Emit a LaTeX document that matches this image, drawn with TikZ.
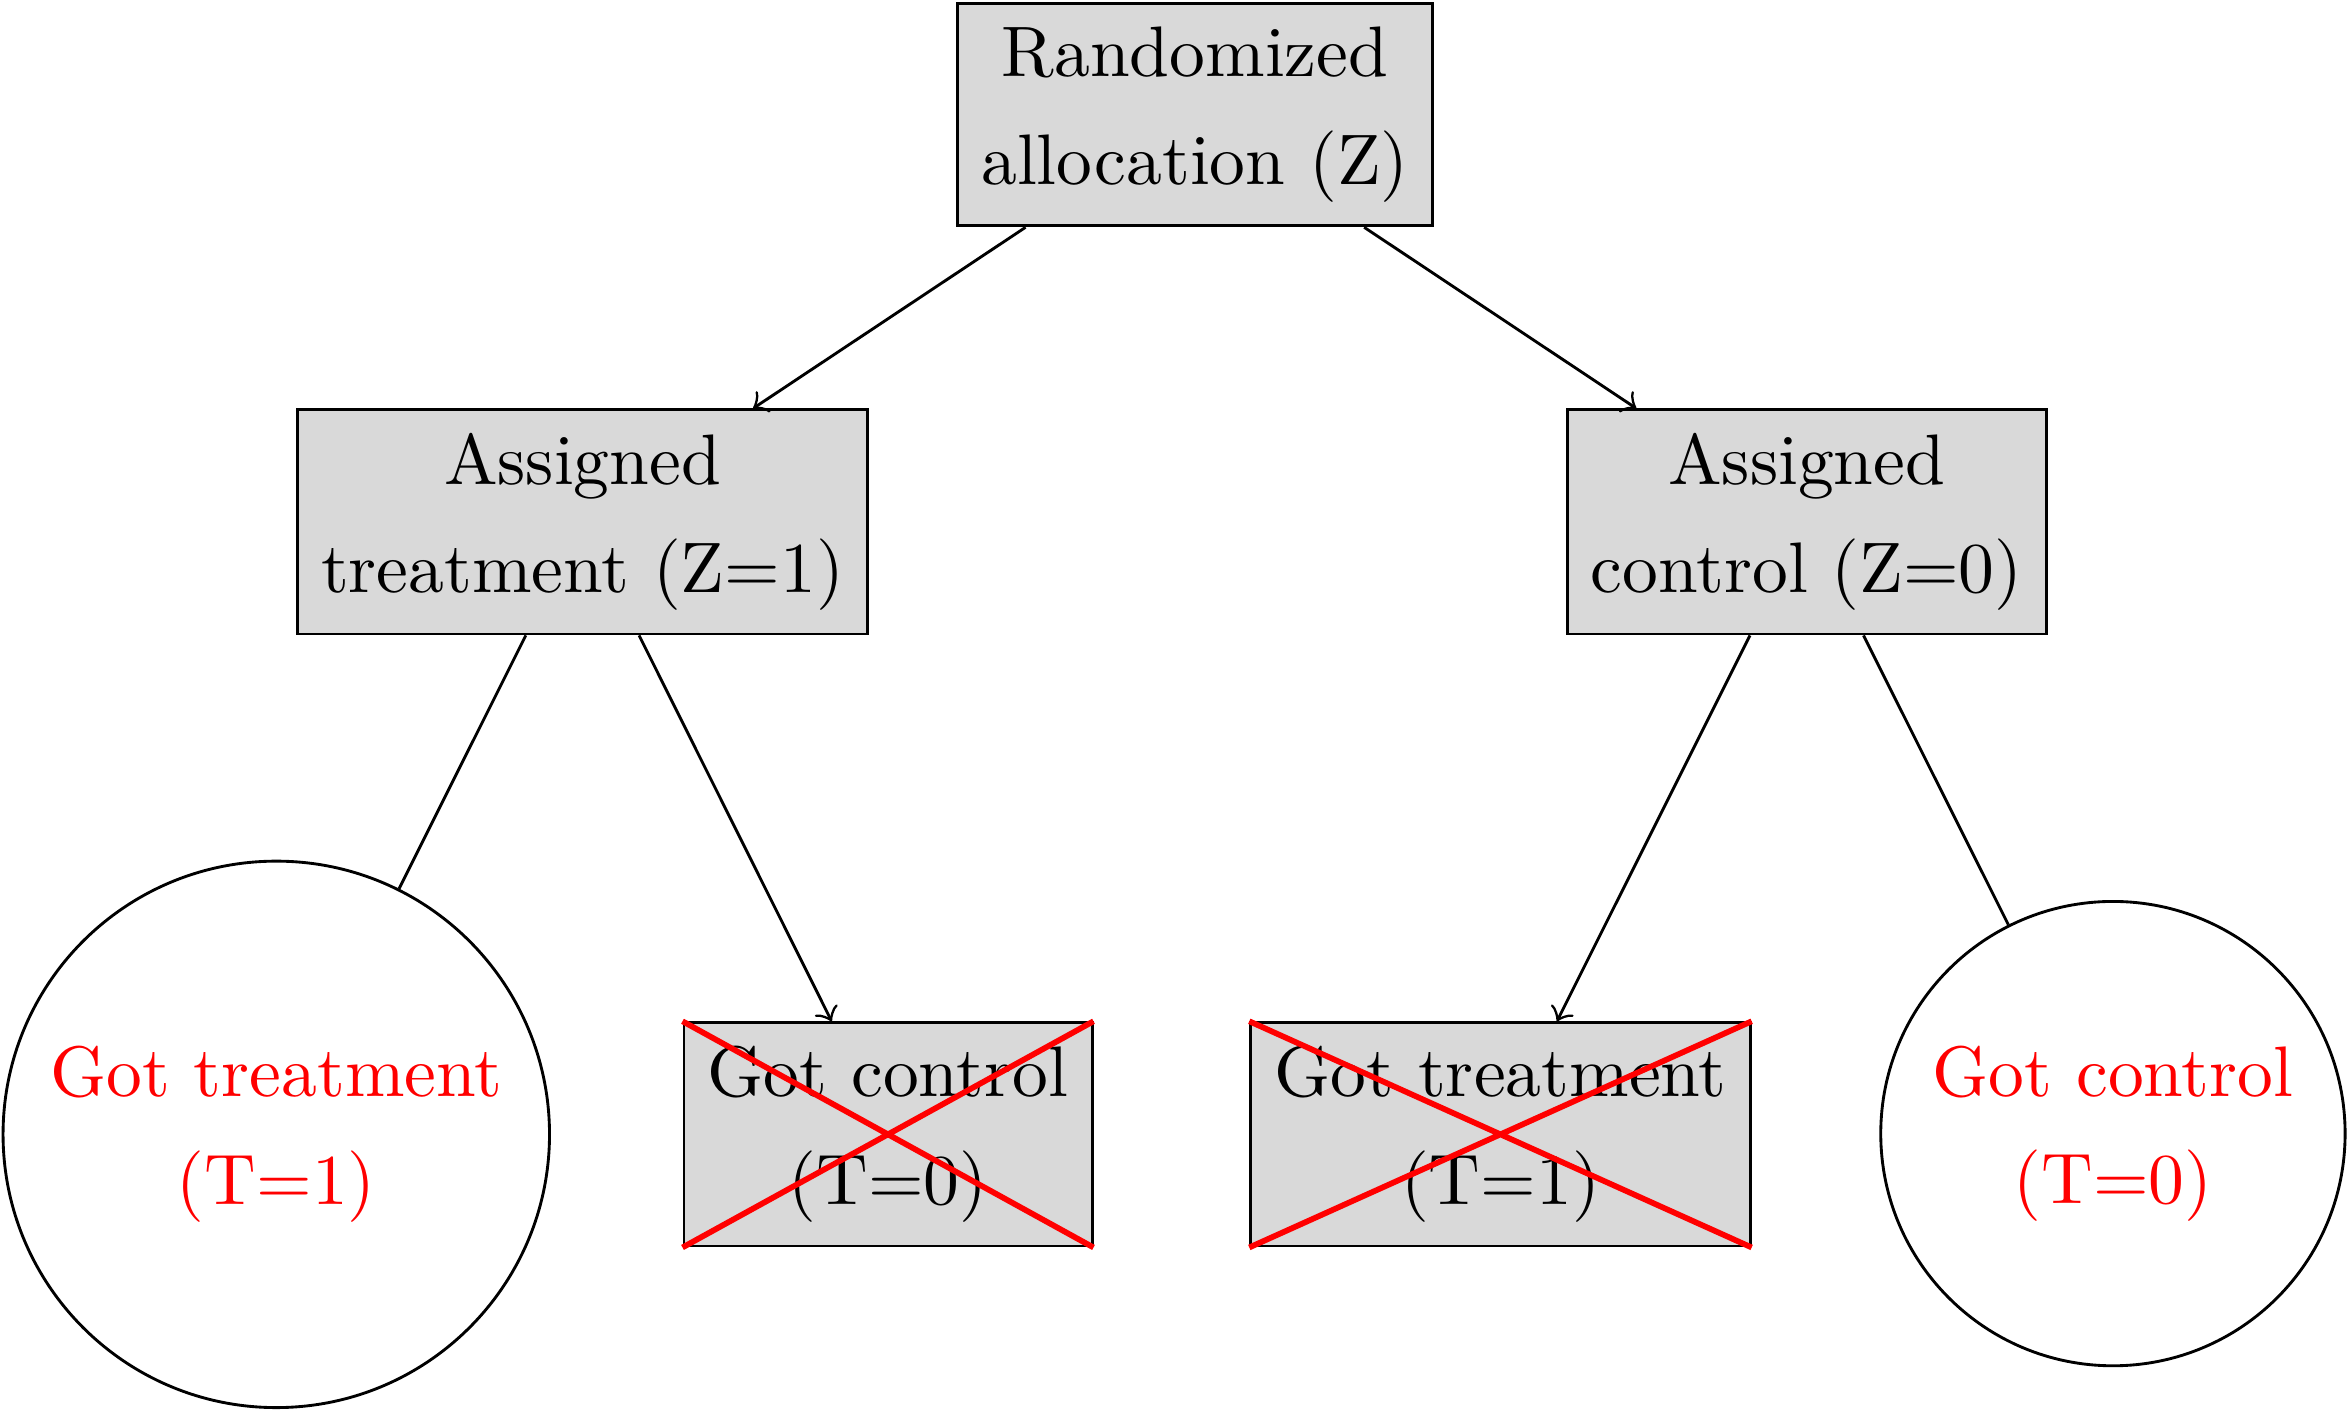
\documentclass[tikz,border=0pt]{standalone}
\begin{document}
\begin{tikzpicture}[x=0.2093pt,y=-0.2093pt,
  txt/.style={align=center, font=\fontsize{10}{15}\selectfont},
  box/.style={txt, draw, fill=gray!30, rectangle},
  outcome/.style={txt, draw, circle, text=red},
  cross/.style={red, line width=0.8pt},
  link/.style={draw},
  arrowlink/.style={draw, ->}]
\useasboundingbox (0,0) rectangle (1568,943);
\node[box] (top) at (798,76.5) {Randomized\\allocation (Z)};
\node[box] (L) at (389,348.5) {Assigned\\treatment (Z=1)};
\node[box] (R) at (1206.5,348.5) {Assigned\\control (Z=0)};
\node[outcome] (LC) at (184.5,757.5) {Got treatment\\(T=1)};
\node[box] (GC) at (593,757.5) {Got control\\(T=0)};
\node[box] (GT) at (1002,757.5) {Got treatment\\(T=1)};
\node[outcome] (RC) at (1411,757) {Got control\\(T=0)};
\path[arrowlink] (top) -- (L);
\path[arrowlink] (top) -- (R);
\path[link] (L) -- (LC);
\path[arrowlink] (L) -- (GC);
\path[arrowlink] (R) -- (GT);
\path[link] (R) -- (RC);
\draw[cross] (GC.north west) -- (GC.south east) (GC.south west) -- (GC.north east);
\draw[cross] (GT.north west) -- (GT.south east) (GT.south west) -- (GT.north east);
\end{tikzpicture}
\end{document}
